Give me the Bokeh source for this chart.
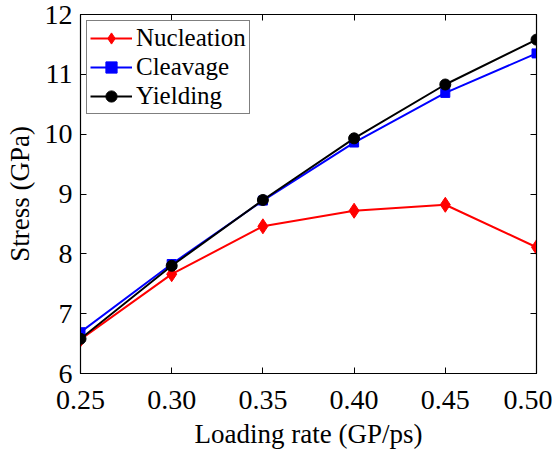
from bokeh.plotting import figure
from bokeh.models import LinearAxis, Range1d, FixedTicker, Legend, LegendItem
from bokeh.embed import file_html
from bokeh.resources import INLINE

rate = [0.25, 0.30, 0.35, 0.40, 0.45, 0.50]
nucleation = [6.57, 7.66, 8.46, 8.72, 8.82, 8.11]
cleavage = [6.69, 7.83, 8.89, 9.86, 10.69, 11.35]
yielding = [6.58, 7.80, 8.90, 9.93, 10.83, 11.58]
xticks = [0.25, 0.30, 0.35, 0.40, 0.45, 0.50]
yticks = [6, 7, 8, 9, 10, 11, 12]

FONT = "Liberation Serif"

p = figure(frame_width=456, frame_height=359, output_backend="svg", toolbar_location=None,
           x_range=Range1d(0.25, 0.50), y_range=Range1d(6, 12),
           min_border_left=80, min_border_top=14, min_border_right=16, min_border_bottom=10)
p.xgrid.visible = False
p.ygrid.visible = False
p.outline_line_color = "black"
p.outline_line_width = 1.2

for ax in [p.xaxis[0], p.yaxis[0]]:
    ax.major_tick_in = 6
    ax.major_tick_out = 0
    ax.minor_tick_in = 0
    ax.minor_tick_out = 0
    ax.axis_line_color = "black"
    ax.major_label_text_font = FONT
    ax.major_label_text_font_size = "28px"
    ax.major_label_text_color = "black"
    ax.axis_label_text_font = FONT
    ax.axis_label_text_font_size = "27px"
    ax.axis_label_text_font_style = "normal"
    ax.axis_label_text_color = "black"

p.xaxis[0].ticker = FixedTicker(ticks=xticks)
p.yaxis[0].ticker = FixedTicker(ticks=yticks)
p.xaxis[0].major_label_overrides = {t: f"{t:.2f}" for t in xticks}
p.xaxis[0].axis_label = "Loading rate (GP/ps)"
p.yaxis[0].axis_label = "Stress (GPa)"
p.xaxis[0].major_label_standoff = 17
p.yaxis[0].major_label_standoff = 8
p.xaxis[0].axis_label_standoff = 7
p.yaxis[0].axis_label_standoff = 7

top = LinearAxis(ticker=FixedTicker(ticks=xticks), major_label_text_font_size="0px",
                 major_tick_in=6, major_tick_out=0, minor_tick_in=0, minor_tick_out=0)
right = LinearAxis(ticker=FixedTicker(ticks=yticks), major_label_text_font_size="0px",
                   major_tick_in=6, major_tick_out=0, minor_tick_in=0, minor_tick_out=0)
p.add_layout(top, "above")
p.add_layout(right, "right")

l1 = p.line(rate, nucleation, line_color="red", line_width=2)
m1 = p.scatter(rate, nucleation, marker="diamond", size=15, color="red")
l2 = p.line(rate, cleavage, line_color="blue", line_width=2)
m2 = p.scatter(rate, cleavage, marker="square", size=9, color="blue")
l3 = p.line(rate, yielding, line_color="black", line_width=2)
m3 = p.scatter(rate, yielding, marker="circle", size=11, color="black")

legend = Legend(items=[
    LegendItem(label="Nucleation", renderers=[l1, m1]),
    LegendItem(label="Cleavage", renderers=[l2, m2]),
    LegendItem(label="Yielding", renderers=[l3, m3]),
], location="top_left")
legend.label_text_font = FONT
legend.label_text_font_size = "25px"
legend.label_text_color = "black"
legend.glyph_width = 42
legend.glyph_height = 28
legend.label_height = 28
legend.spacing = 1
legend.padding = 3
legend.margin = 6
legend.label_standoff = 4
legend.border_line_color = "black"
legend.border_line_width = 1
legend.background_fill_alpha = 1
p.add_layout(legend)

open("out.html", "w").write(file_html(p, INLINE))
